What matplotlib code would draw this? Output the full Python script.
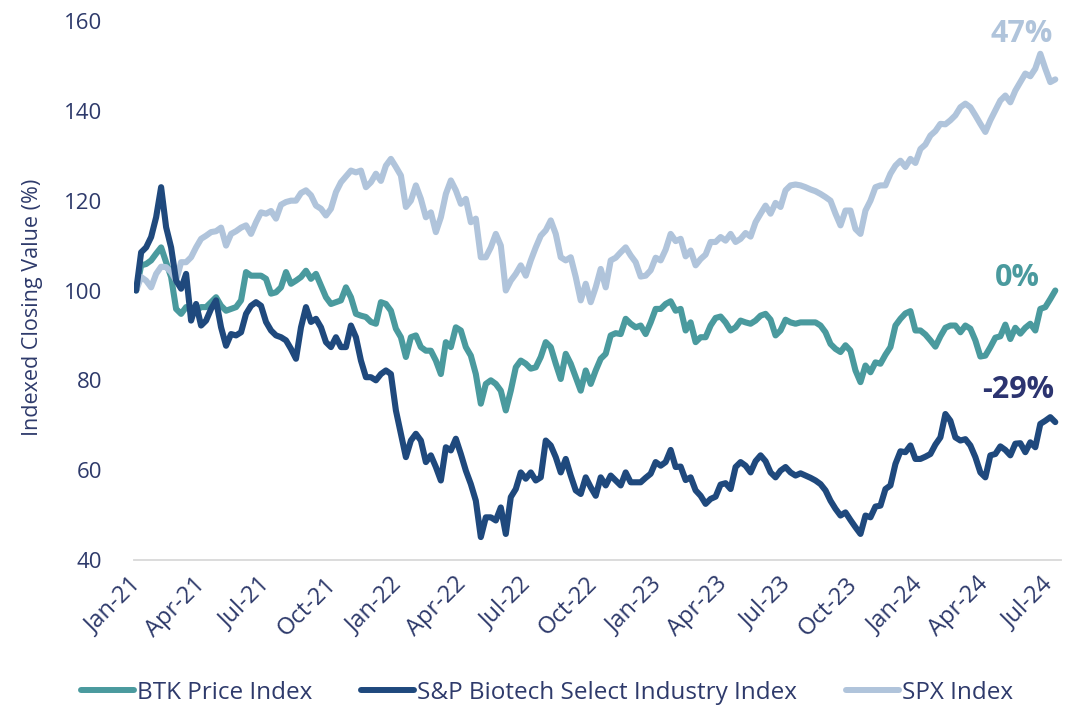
import matplotlib
matplotlib.use("Agg")
import matplotlib.pyplot as plt
import matplotlib.dates as mdates
import matplotlib.transforms as mtrans
from matplotlib.lines import Line2D
import pandas as pd

plt.rcParams['font.family'] = ['Open Sans', 'DejaVu Sans']

# ---------------- data (weekly, indexed to 100) ----------------
start_date = "2021-01-04"

btk = [
    100, 105.6, 105.9, 106.7, 108.2, 109.6, 106.3, 103, 95.9, 94.8, 96.3, 95.9, 95.5, 96.3, 96.3, 97.4,
    98.5, 96.6, 95.5, 95.9, 96.3, 97.8, 104.1, 103.3, 103.3, 103.3, 102.6, 99.3, 99.6, 100.7, 104.1, 101.5,
    102.2, 103, 104.4, 102.6, 103.7, 101.1, 98.5, 97, 97.4, 97.8, 100.7, 98.5, 94.8, 94.4, 94.1,
    93, 92.6, 97.4, 97, 95.5, 91.5, 89.6, 85.2, 89.6, 90, 87.4, 86.6, 86.6, 84.4, 81.4, 88.5,
    87.4, 91.8, 91.1, 87.4, 85.5, 81.4, 74.8, 79.2, 80, 79.2, 77.7, 73.3, 77.7, 82.9, 84.4, 83.7,
    82.6, 82.9, 85.2, 88.5, 87.4, 83.7, 80.3, 85.9, 83.7, 80.7, 77.7, 82.2, 79.2, 82.2, 84.8, 85.9,
    90, 90.5, 90.3, 93.7, 92.6, 91.8, 92.2, 90.3, 92.9, 95.9, 95.9, 97, 97.6, 95.5, 95.9, 91.1,
    92.9, 88.5, 89.6, 89.6, 92.2, 93.9, 94.2, 92.9, 91.1, 91.8, 93.3, 92.9, 92.6, 93.3, 94.4, 94.8,
    93.5, 90, 91.1, 93.5, 92.9, 92.6, 92.9, 92.9, 92.9, 92.9, 92.2, 90.7, 88.1, 87, 86.3, 87.8,
    86.6, 82.2, 79.6, 83.3, 81.8, 84.0, 83.7, 85.7, 87.4, 92.2, 93.7, 94.9, 95.4, 91.1, 91.1, 90.2,
    88.9, 87.5, 89.8, 91.7, 92.2, 92.2, 90.7, 92.2, 91.5, 88.9, 85.3, 85.5, 87.4, 89.5, 89.8, 92.4,
    89.2, 91.7, 90.4, 91.7, 92.6, 91.1, 95.9, 96.3, 98.1, 100,
]

xbi = [
    100, 108.5, 109.6, 111.9, 116.3, 123, 114.1, 109.6, 102.2, 100.4, 103.7, 93.3, 97, 92.2, 93.3, 95.9,
    97.8, 91.8, 87.7, 90.3, 90, 90.7, 94.8, 96.6, 97.4, 96.6, 93, 91.1, 90, 89.6, 88.9, 87,
    84.8, 91.8, 96.3, 93, 93.7, 91.8, 88.5, 87.4, 89.6, 87.4, 87.4, 92.2, 89.6, 84.4, 80.7,
    80.7, 80, 81.4, 82.2, 81.4, 73.3, 68.1, 62.9, 66.6, 68.1, 66.6, 61.8, 63.3, 60.7, 57.7, 65.1,
    64.4, 67, 63.6, 59.9, 56.9, 53.2, 45.1, 49.5, 49.5, 48.8, 51.7, 45.8, 54, 55.8, 59.5, 58.1,
    59.5, 57.7, 58.4, 66.6, 65.5, 62.9, 59.5, 62.5, 58.8, 55.5, 54.7, 58.4, 56.2, 54.3, 58.4, 56.6,
    58.8, 57.7, 56.6, 59.5, 57.3, 57.3, 57.3, 58.3, 59.2, 61.8, 61, 61.8, 64.5, 60.7, 60.8, 57.8,
    58.4, 55.5, 54.3, 52.5, 53.6, 54.1, 56.8, 57.1, 55.8, 60.7, 61.8, 61, 59.5, 62, 63.3, 62,
    59.5, 58.4, 59.9, 60.7, 59.5, 58.8, 59.3, 58.8, 58.3, 57.7, 56.9, 55.5, 53.2, 51.4, 49.9, 50.6,
    48.9, 47.3, 45.8, 49.9, 49.5, 51.9, 52.1, 55.8, 56.6, 61.4, 64.2, 64, 65.5, 62.5, 62.5, 63,
    63.6, 65.7, 67.3, 72.5, 71, 67.3, 66.6, 66.9, 65.5, 62.9, 59.5, 58.4, 63.3, 63.6, 65.3, 64.5,
    63.3, 65.9, 66, 64, 66.2, 65.1, 70.3, 71, 71.8, 70.7,
]

spx = [
    100, 103.0, 102.2, 100.7, 103.7, 105.3, 105.2, 104.1, 102.2, 106.3, 106.3, 107.4, 109.6, 111.5, 112.2, 113,
    113.2, 114, 110, 112.6, 113.2, 114, 114.5, 112.6, 115.2, 117.4, 117.1, 117.7, 116, 119.1, 119.7, 120,
    120, 121.7, 122.3, 121.2, 118.9, 118.2, 116.7, 118.2, 121.9, 124.1, 125.4, 126.7, 126.3, 126.7, 123,
    124.1, 126, 124.4, 127.8, 129.3, 127.5, 125.6, 118.6, 120.0, 123.4, 120.4, 116.3, 117.4, 113, 116.3, 121.5,
    124.5, 122.3, 119.3, 120.4, 115.2, 116, 107.4, 107.4, 109.6, 112.6, 110, 100, 102.2, 103.7, 105.6, 103.3,
    106.7, 109.6, 112.2, 113.4, 115.6, 112.6, 107.4, 106.7, 107.4, 103, 97.8, 101.5, 97.4, 100.7, 104.8, 100.7,
    106.7, 107.3, 108.5, 109.6, 107.8, 106.3, 103.1, 103.3, 104.5, 107.3, 106.7, 109.1, 112.6, 111, 111.5, 107.6,
    108.9, 105.6, 107, 108, 110.8, 110.8, 111.9, 111.1, 112.6, 110.8, 111.5, 112.8, 112, 115.2, 117.1, 118.9,
    117.1, 119.5, 118.6, 122.3, 123.4, 123.6, 123.4, 123, 122.5, 122.1, 121.5, 120.8, 120, 117.1, 114.5, 117.8,
    117.8, 113.7, 112.6, 117.8, 120, 123, 123.4, 123.4, 126, 127.8, 128.9, 127.5, 129.3, 128.4, 131.5, 132.5,
    134.5, 135.5, 137.1, 137, 137.9, 139, 140.8, 141.6, 140.8, 139, 137.1, 135.3, 137.9, 140.1, 142.3, 143.4,
    141.9, 144.5, 146.4, 148.3, 147.7, 149.4, 152.7, 149.4, 146.4, 147,
]

series_names = ["BTK Price Index", "S&P Biotech Select Industry Index", "SPX Index"]
end_labels = ["0%", "-29%", "47%"]
y_ticks = [40, 60, 80, 100, 120, 140, 160]
y_label = "Indexed Closing Value (%)"

dates = pd.date_range(start_date, periods=len(btk), freq="7D")

# ---------------- style ----------------
c_btk = "#4A9A9E"
c_xbi = "#1F497D"
c_spx = "#B0C4DB"
c_text = "#2E3A6B"
c_xbi_lbl = "#2C3470"

fig = plt.figure(figsize=(10.82, 7.08), dpi=100)
ax = fig.add_axes([134 / 1082, 1 - 560 / 708, (1061 - 134) / 1082, (560 - 21) / 708])

lw = 4.4
ax.plot(dates, btk, color=c_btk, lw=lw, solid_joinstyle="round", solid_capstyle="round", zorder=2)
ax.plot(dates, spx, color=c_spx, lw=lw, solid_joinstyle="round", solid_capstyle="round", zorder=3)
ax.plot(dates, xbi, color=c_xbi, lw=lw, solid_joinstyle="round", solid_capstyle="round", zorder=4)

ax.set_ylim(40, 160)
ax.set_yticks(y_ticks)
ax.set_xlim(pd.Timestamp("2021-01-01"), pd.Timestamp("2024-07-23"))

ax.xaxis.set_major_locator(mdates.MonthLocator(bymonth=[1, 4, 7, 10]))
ax.xaxis.set_major_formatter(mdates.DateFormatter("%b-%y"))

for s in ["top", "right", "left"]:
    ax.spines[s].set_visible(False)
ax.spines["bottom"].set_color("#D9D9D9")
ax.spines["bottom"].set_linewidth(1.3)

ax.tick_params(axis="y", length=0, pad=23, labelsize=16, labelcolor=c_text)
ax.tick_params(axis="x", length=0, pad=15, labelsize=17, labelcolor=c_text)
offset = mtrans.ScaledTranslation(4 / 100, 0, fig.dpi_scale_trans)
for lbl in ax.get_xticklabels():
    lbl.set_rotation(45)
    lbl.set_ha("right")
    lbl.set_va("center")
    lbl.set_rotation_mode("anchor")
    lbl.set_transform(lbl.get_transform() + offset)

fig.text(33 / 1082, 1 - 307 / 708, y_label, rotation=90, ha="center", va="center",
         fontsize=15.5, color=c_text)

# end labels
ax.annotate(end_labels[2], xy=(dates[-1], spx[-1]), xytext=(-24, 33), textcoords="offset points",
            ha="center", va="center", fontsize=22, fontweight="bold", color=c_spx)
ax.annotate(end_labels[0], xy=(dates[-1], btk[-1]), xytext=(-27, 9), textcoords="offset points",
            ha="center", va="center", fontsize=22, fontweight="bold", color=c_btk)
ax.annotate(end_labels[1], xy=(dates[-1], xbi[-1]), xytext=(-27, 23), textcoords="offset points",
            ha="center", va="center", fontsize=22, fontweight="bold", color=c_xbi_lbl)

handles = [Line2D([], [], color=c, lw=4.3, solid_capstyle="round") for c in (c_btk, c_xbi, c_spx)]
leg = fig.legend(handles, series_names, ncol=3, loc="center", bbox_to_anchor=(547 / 1082, 1 - 693 / 708),
                 frameon=False, fontsize=17.5, handlelength=2.2, handletextpad=0.12, columnspacing=2.0,
                 labelcolor=c_text)

fig.savefig("out.png", dpi=100)
